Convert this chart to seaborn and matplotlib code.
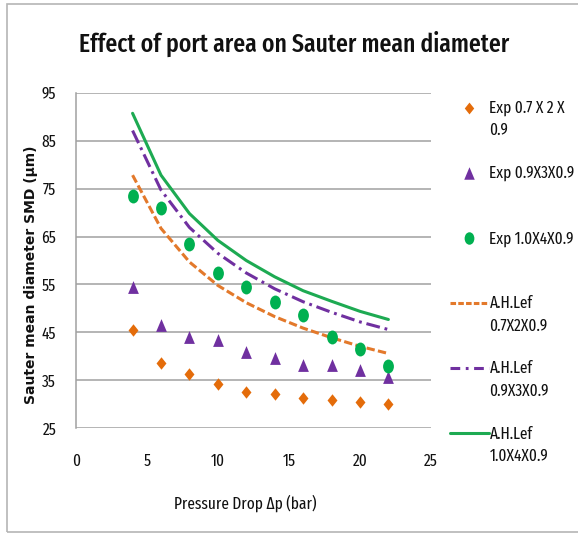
import matplotlib
matplotlib.use("Agg")
import matplotlib.pyplot as plt
import seaborn as sns
import pandas as pd
from matplotlib import font_manager as fm
from matplotlib.lines import Line2D
from matplotlib.path import Path
from matplotlib.legend_handler import HandlerLine2D
from matplotlib.patches import Rectangle, Ellipse

# ---- data ----
pressure_drop = [4, 6, 8, 10, 12, 14, 16, 18, 20, 22]
exp_07x2x09 = [45.6, 38.6, 36.3, 34.2, 32.6, 32.2, 31.3, 30.9, 30.4, 30.1]
exp_09x3x09 = [54.5, 46.6, 44.1, 43.4, 41.0, 39.6, 38.2, 38.2, 37.2, 35.6]
exp_10x4x09 = [73.5, 70.9, 63.4, 57.3, 54.5, 51.4, 48.6, 44.1, 41.5, 37.9]
lef_07x2x09 = [77.8, 66.7, 59.7, 54.8, 51.2, 48.3, 45.9, 43.9, 42.1, 40.6]
lef_09x3x09 = [87.1, 74.7, 66.9, 61.5, 57.4, 54.1, 51.4, 49.2, 47.2, 45.6]
lef_10x4x09 = [90.7, 77.8, 69.8, 64.2, 60.0, 56.6, 53.7, 51.5, 49.4, 47.7]
x_ticks = [0, 5, 10, 15, 20, 25]
y_ticks = [25, 35, 45, 55, 65, 75, 85, 95]
legend_labels = ["Exp 0.7 X 2 X\n0.9", "Exp 0.9X3X0.9\n", "Exp 1.0X4X0.9\n",
                 "A.H.Lef\n0.7X2X0.9", "A.H.Lef\n0.9X3X0.9", "A.H.Lef\n1.0X4X0.9"]
title = "Effect of port area on Sauter mean diameter"
x_label = "Pressure Drop \u0394p (bar)"
y_label = "Sauter mean diameter SMD (\u03bcm)"

ORANGE = "#E46C0A"
ORANGE_LINE = "#E3792B"
PURPLE = "#7030A0"
GREEN = "#00B050"
GREEN_LINE = "#1DAA52"

sns.set_style("white")
avail = {f.name for f in fm.fontManager.ttflist}
cands = ["Fira Sans Extra Condensed", "PT Sans Narrow", "Fira Sans Condensed",
         "Roboto Condensed", "Open Sans Condensed", "Archivo Narrow",
         "Liberation Sans Narrow"]
NARROW = next((c for c in cands if c in avail), "DejaVu Sans")
narrow = [NARROW, "DejaVu Sans"]
plt.rcParams["font.family"] = narrow
plt.rcParams["lines.scale_dashes"] = False

# squeezed marker shapes (the source picture is horizontally compressed)
_e = Ellipse((0, 0), 0.78, 1.0)
_ep = _e.get_path().transformed(_e.get_patch_transform())
ellipse_marker = Path(_ep.vertices, _ep.codes)
diamond_marker = Path([(0, 0.5), (0.4, 0), (0, -0.5), (-0.4, 0), (0, 0.5)],
                      [Path.MOVETO, Path.LINETO, Path.LINETO, Path.LINETO, Path.CLOSEPOLY])
tri_marker = Path([(0, 0.5), (0.42, -0.5), (-0.42, -0.5), (0, 0.5)],
                  [Path.MOVETO, Path.LINETO, Path.LINETO, Path.CLOSEPOLY])

fig = plt.figure(figsize=(5.78, 5.33), dpi=100)
ax = fig.add_axes([0.131, 0.1964, 0.6147, 0.6297])

df = pd.DataFrame({"x": pressure_drop, "e07": exp_07x2x09, "e09": exp_09x3x09,
                   "e10": exp_10x4x09, "l07": lef_07x2x09, "l09": lef_09x3x09,
                   "l10": lef_10x4x09})

sns.lineplot(data=df, x="x", y="l07", ax=ax, color=ORANGE_LINE, linewidth=2.2,
             linestyle=(0, (6, 2.4)), zorder=3)
sns.lineplot(data=df, x="x", y="l09", ax=ax, color=PURPLE, linewidth=2.2,
             linestyle=(0, (10, 3.5, 2, 3.5)), zorder=3)
sns.lineplot(data=df, x="x", y="l10", ax=ax, color=GREEN_LINE, linewidth=2.2,
             linestyle="-", zorder=3)

sns.scatterplot(data=df, x="x", y="e07", ax=ax, color=ORANGE, marker=diamond_marker,
                s=80, linewidth=0, zorder=4)
sns.scatterplot(data=df, x="x", y="e09", ax=ax, color=PURPLE, marker=tri_marker,
                s=85, linewidth=0, zorder=4)
sns.scatterplot(data=df, x="x", y="e10", ax=ax, color=GREEN, marker=ellipse_marker,
                s=100, linewidth=0, zorder=4)

ax.set_xlim(0, 25)
ax.set_ylim(25, 95)
ax.set_xticks(x_ticks)
ax.set_yticks(y_ticks)
ax.set_xticklabels([str(v) for v in x_ticks])
ax.set_yticklabels([str(v) for v in y_ticks])
ax.tick_params(axis="x", length=0, pad=18, labelsize=12, colors="#111111")
ax.tick_params(axis="y", length=0, pad=14, labelsize=12, colors="#111111")
ax.yaxis.grid(True, color="#a0a0a0", linewidth=1.1)
ax.xaxis.grid(False)
for side in ["top", "right", "bottom"]:
    ax.spines[side].set_visible(False)
ax.spines["left"].set_color("#a0a0a0")
ax.spines["left"].set_linewidth(1.1)
ax.set_xlabel("")
ax.set_ylabel("")

fig.text(294 / 578, 1 - 44 / 533, title, ha="center", va="center",
         fontsize=18.5, fontweight="medium", family=narrow, color="#111111")
fig.text(245.5 / 578, 1 - 503 / 533, x_label, ha="center", va="center",
         fontsize=12, family=narrow, color="#111111")
fig.text(31 / 578, 1 - 275 / 533, y_label, ha="center", va="center",
         rotation=90, fontsize=10, fontweight="bold",
         family=["DejaVu Sans"], color="#111111")

handles = [
    Line2D([], [], linestyle="none", marker=diamond_marker, color=ORANGE, markersize=8.5, markeredgewidth=0),
    Line2D([], [], linestyle="none", marker=tri_marker, color=PURPLE, markersize=9, markeredgewidth=0),
    Line2D([], [], linestyle="none", marker=ellipse_marker, color=GREEN, markersize=9, markeredgewidth=0),
    Line2D([], [], color=ORANGE_LINE, linewidth=2.2, linestyle=(0, (4, 1.6))),
    Line2D([], [], color=PURPLE, linewidth=2.2, linestyle=(0, (7, 4, 2, 4))),
    Line2D([], [], color=GREEN_LINE, linewidth=2.2, linestyle="-"),
]


class ShiftUp(HandlerLine2D):
    def __init__(self, dy, **kw):
        super().__init__(**kw)
        self.dy = dy

    def create_artists(self, legend, orig_handle, xdescent, ydescent, width,
                       height, fontsize, trans):
        return super().create_artists(legend, orig_handle, xdescent,
                                      ydescent - 2 * self.dy, width, height,
                                      fontsize, trans)


hmap = {h: ShiftUp(8.8) for h in handles}
leg = fig.legend(handles, legend_labels, loc="upper left",
                 bbox_to_anchor=(442 / 578, 1 - 92 / 533), frameon=False,
                 prop={"family": narrow, "size": 12}, handlelength=2.3,
                 handletextpad=0.05, labelspacing=1.6, borderpad=0,
                 handler_map=hmap)
for t in leg.get_texts():
    t.set_linespacing(1.5)
    t.set_color("#111111")

fig.patches.append(Rectangle((6.5 / 578, 1 - 531.5 / 533), 1.2, 527.5 / 533,
                             transform=fig.transFigure, fill=False,
                             edgecolor="#b5b5b5", linewidth=1.2))

fig.savefig("out.png", dpi=100)
